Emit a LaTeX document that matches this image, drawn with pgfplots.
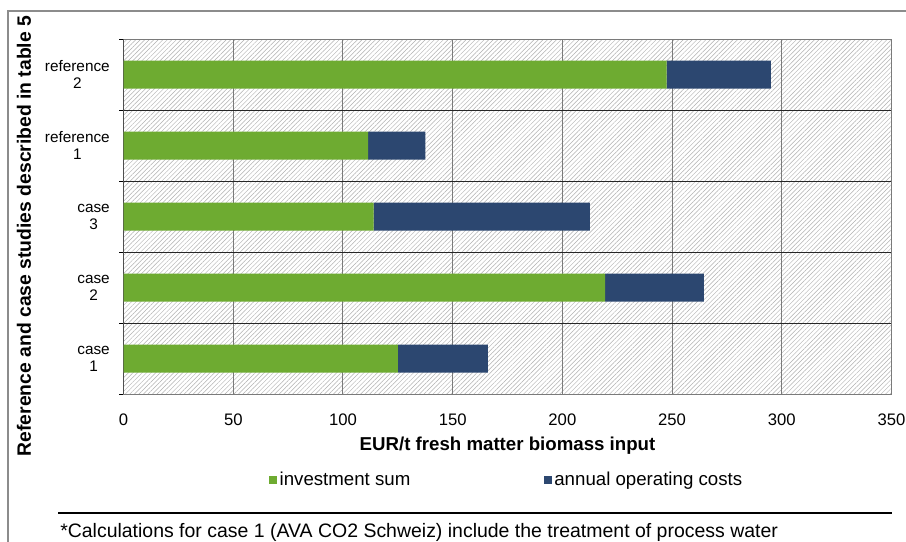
\documentclass[border=0pt]{standalone}
\usepackage{fontspec}
\setmainfont{Liberation Sans}
\usepackage{pgfplots}
\pgfplotsset{compat=1.18}
\usetikzlibrary{patterns.meta}
\definecolor{invgreen}{HTML}{6EAB31}
\definecolor{opnavy}{HTML}{2C4770}
\definecolor{hatch}{HTML}{B0B0B0}
\definecolor{gridgray}{HTML}{7A7A7A}
\definecolor{framegray}{HTML}{8C8C8C}
\begin{document}
\begin{tikzpicture}
\useasboundingbox (0,0) rectangle (679.5pt,-406.5pt);
\fill[white] (0,0) rectangle (679.5pt,-406.5pt);
\draw[framegray, line width=1.1pt] (6pt,-430pt) -- (6pt,-8.25pt) -- (700pt,-8.25pt);
\begin{axis}[
  at={(92.7pt,-295.5pt)}, anchor=south west,
  scale only axis, width=575.9pt, height=266.25pt,
  xbar stacked, bar width=21pt,
  xmin=0, xmax=350, ymin=0.5, ymax=5.5,
  xtick={0,50,...,350},
  ytick={1,2,3,4,5},
  yticklabels={{case\\1},{case\\2},{case\\3},{reference\\1},{reference\\2}},
  minor ytick={0.5,1.5,2.5,3.5,4.5,5.5},
  ytick pos=left, xtick pos=bottom,
  tick align=outside,
  major tick length=0pt, minor tick length=3.2pt,
  every tick/.style={black, line width=0.75pt},
  xmajorgrids, yminorgrids,
  major x grid style={gridgray, line width=0.75pt},
  minor y grid style={black!85, line width=0.75pt},
  axis line style={gridgray, line width=0.75pt},
  axis background/.style={fill=white, postaction={pattern={Lines[angle=45,distance=2.4pt,line width=0.35pt]}, pattern color=hatch}},
  /pgf/number format/assume math mode=true,
  xticklabel style={font=\fontsize{12.5}{14}\selectfont, inner sep=0pt, yshift=-14.5pt},
  yticklabel style={font=\fontsize{11.5}{12.75}\selectfont, align=center, inner sep=0pt, xshift=-10.2pt},
  xlabel={EUR/t fresh matter biomass input},
  xlabel style={font=\bfseries\fontsize{14}{16}\selectfont, at={(axis description cs:0.5,0)}, anchor=center, yshift=-39pt},
  legend columns=2,
  legend style={at={(0.189,-0.242)}, anchor=west, draw=none, fill=none, inner sep=0pt,
    font=\fontsize{14}{16}\selectfont,
    /tikz/every even column/.append style={column sep=98pt}},
  legend image code/.code={\fill[#1] (0pt,-3pt) rectangle (6pt,3pt);},
]
\addplot[fill=invgreen, draw=none] coordinates {(125,1) (219.5,2) (114,3) (111.5,4) (247.5,5)};
\addplot[fill=opnavy, draw=none] coordinates {(41,1) (45,2) (98.5,3) (26,4) (47.5,5)};
\legend{investment sum, annual operating costs}
\draw[black, line width=0.75pt] (axis cs:0,0.5) -- (axis cs:0,5.5);
\end{axis}
\node[rotate=90, anchor=base, font=\bfseries\fontsize{14.5}{16}\selectfont] at (23.25pt,-177pt) {Reference and case studies described in table 5};
\draw[black, line width=0.9pt] (43.5pt,-384.75pt) -- (669pt,-384.75pt);
\node[anchor=west, inner sep=0pt, font=\fontsize{14.6}{16}\selectfont] at (45pt,-399pt) {*Calculations for case 1 (AVA CO2 Schweiz) include the treatment of process water};
\end{tikzpicture}
\end{document}
